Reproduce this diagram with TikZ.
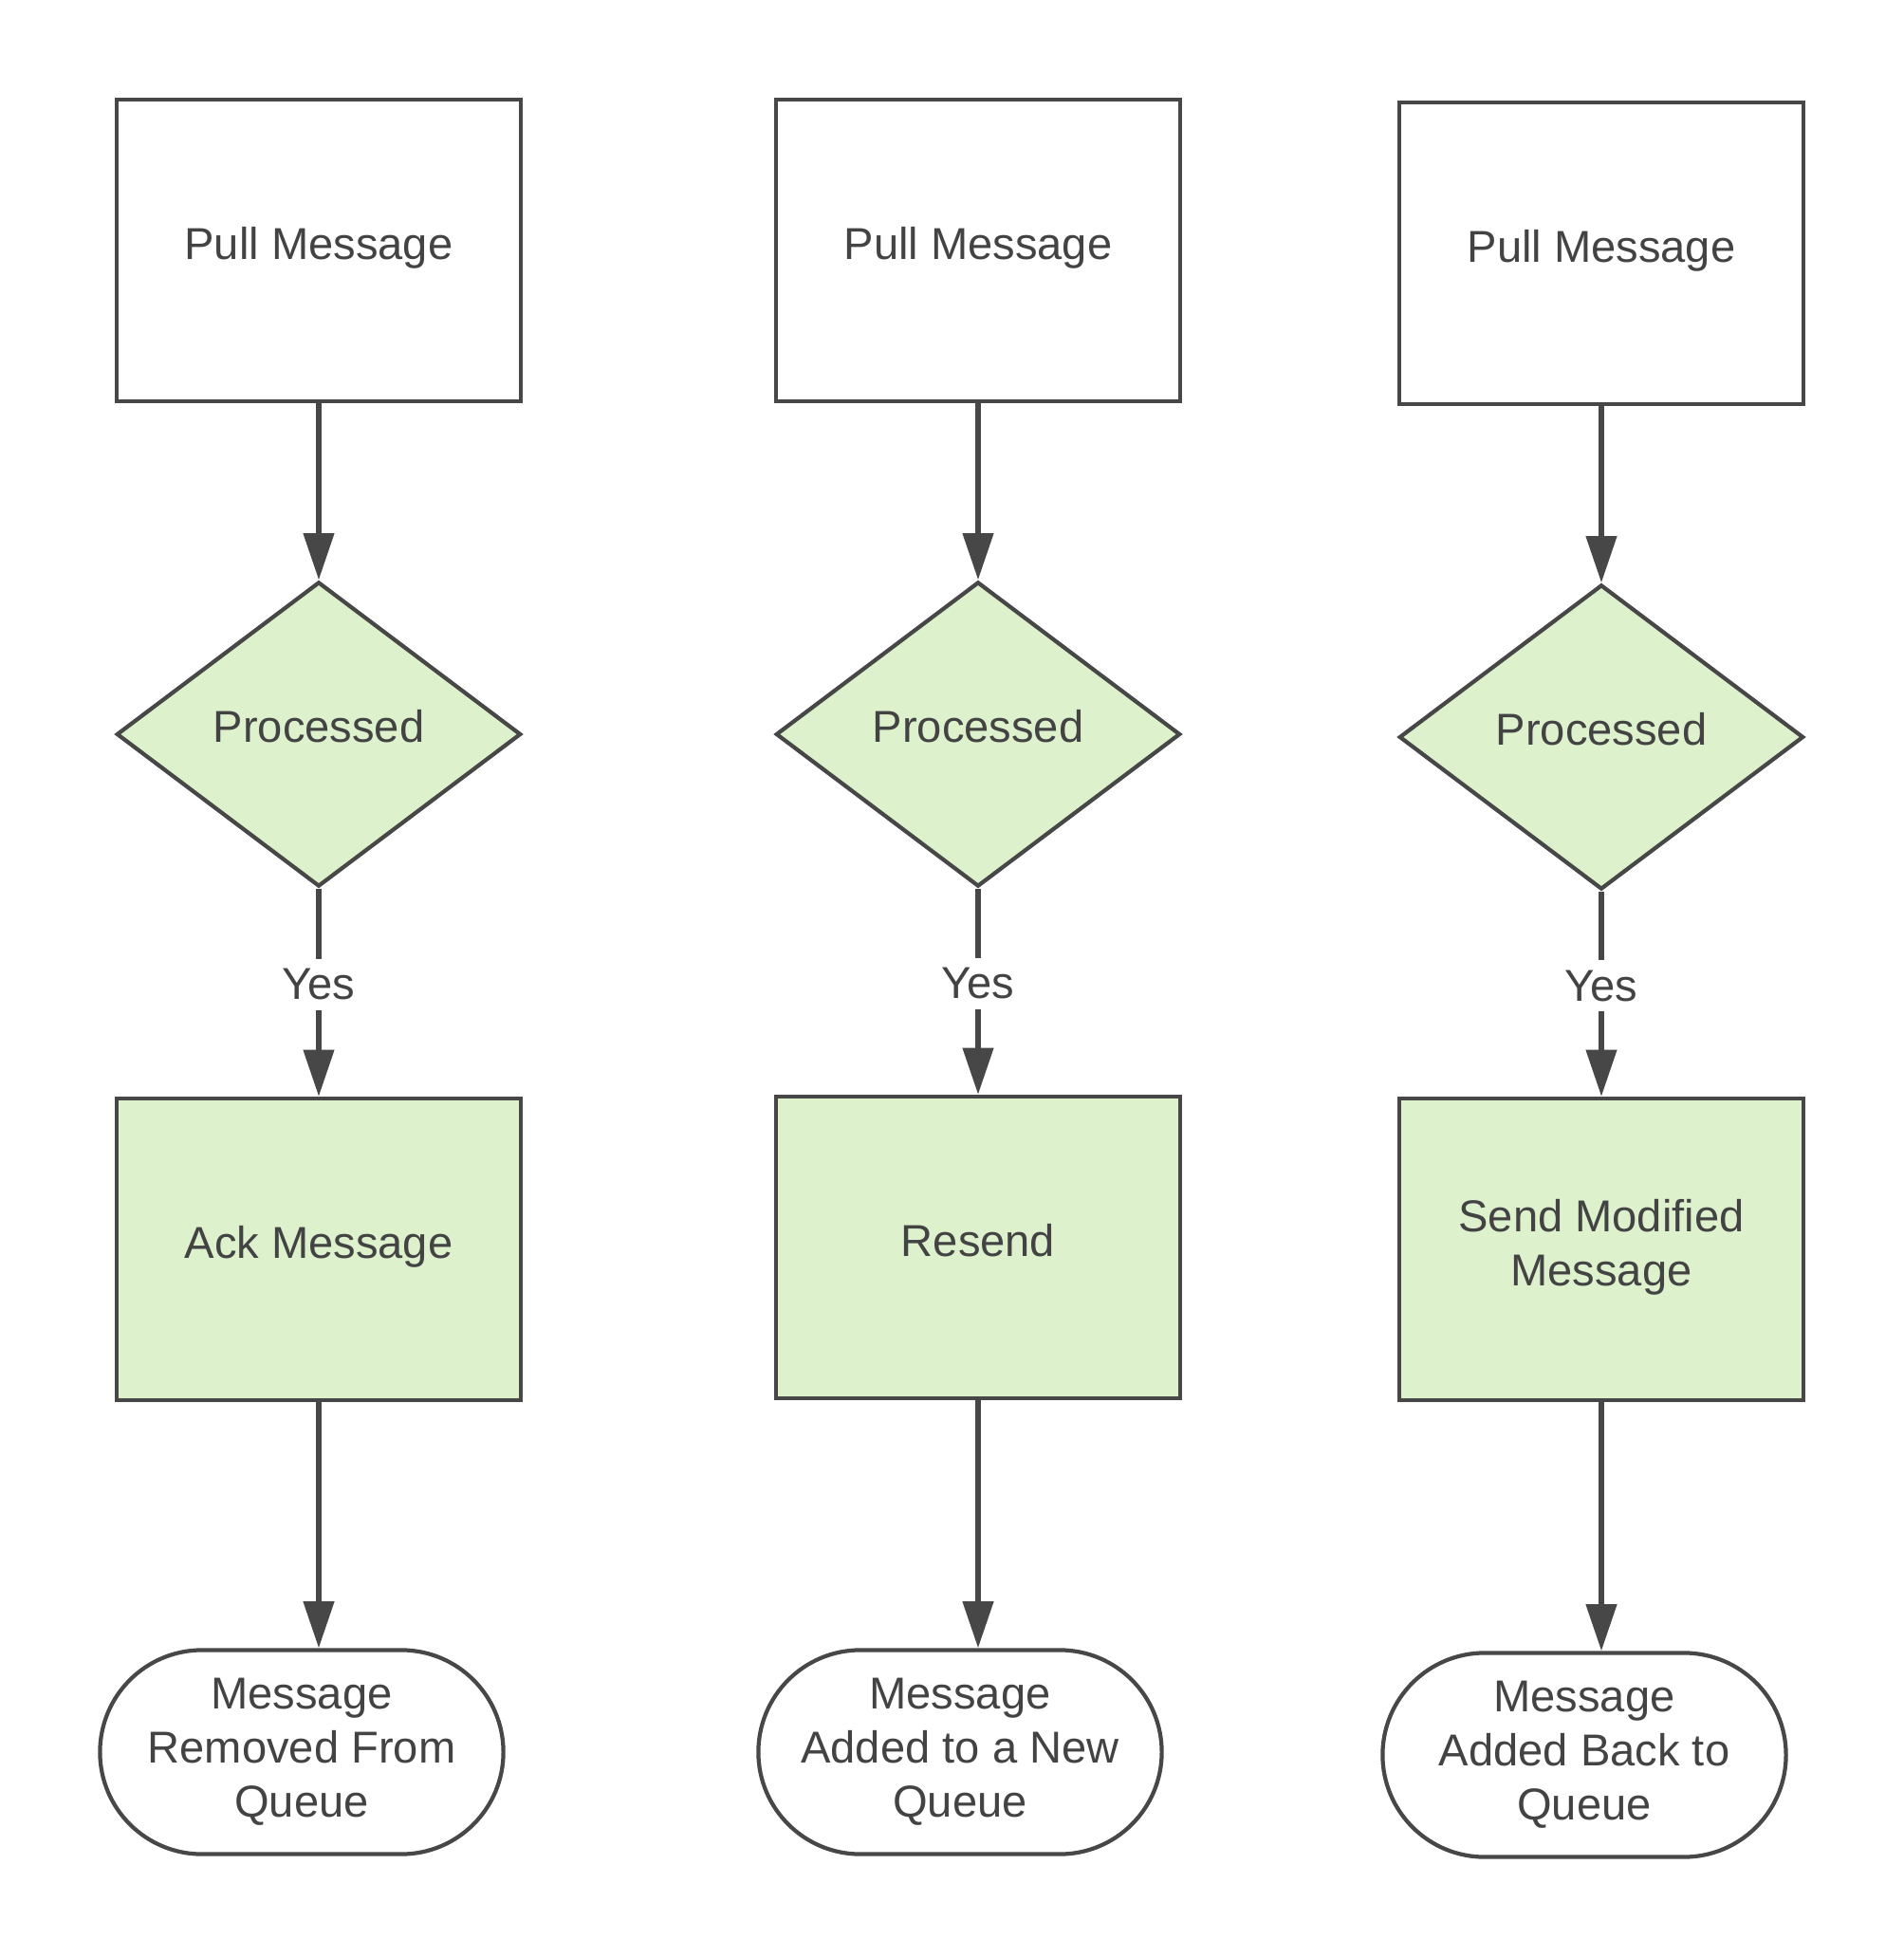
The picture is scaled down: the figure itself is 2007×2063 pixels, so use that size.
\documentclass[tikz,border=0pt]{standalone}
\usepackage{fontspec}
\setmainfont{Liberation Sans}
\usepackage{tikz}
\usetikzlibrary{shapes.geometric}
\usetikzlibrary{shapes.misc}
\usetikzlibrary{arrows.meta}
\definecolor{linegray}{HTML}{474747}
\definecolor{textgray}{HTML}{434343}
\definecolor{stepgreen}{HTML}{DDF1CD}
\tikzstyle{flow}=[draw=linegray, line width=1.2pt, text=textgray, inner sep=0pt, align=center, font=\fontsize{13.4}{16.2}\selectfont]
\tikzstyle{pullbox}=[flow, rectangle, minimum width=4.26cm, minimum height=3.18cm, text height=9.6pt, text depth=4pt]
\tikzstyle{actbox}=[pullbox, fill=stepgreen]
\tikzstyle{decide}=[flow, diamond, fill=stepgreen, minimum width=4.26cm, minimum height=3.21cm, text height=9.6pt, text depth=4.6pt]
\tikzstyle{endbox}=[flow, rounded rectangle, minimum width=4.25cm, minimum height=2.15cm]
\tikzstyle{link}=[draw=linegray, line width=1.6pt, -{Triangle[length=14pt, width=9pt]}]
\tikzstyle{yes}=[fill=white, text=textgray, inner sep=3pt, font=\fontsize{13.4}{16.2}\selectfont]

\begin{document}
\begin{tikzpicture}[x=0.01cm, y=-0.01cm]
        \useasboundingbox (0, 0) rectangle (2007, 2063);
        % ack column
        \node[pullbox] (P1) at (336, 264)  {Pull Message};
        \node[decide]  (D1) at (336, 774)  {Processed};
        \node[actbox]  (B1) at (336, 1317) {Ack Message};
        \node[endbox]  (T1) at (318, 1847) {Message\\Removed From\\Queue};
        % resend column
        \node[pullbox] (P2) at (1031, 264)  {Pull Message};
        \node[decide]  (D2) at (1031, 774)  {Processed};
        \node[actbox]  (B2) at (1031, 1315) {Resend};
        \node[endbox]  (T2) at (1012, 1847) {Message\\Added to a New\\Queue};
        % modify column
        \node[flow, rectangle, fill=stepgreen, minimum width=4.26cm, minimum height=3.18cm]
                       (B3) at (1688, 1317) {Send Modified\\Message\\[-12pt]};
        \node[pullbox] (P3) at (1688, 267)  {Pull Message};
        \node[decide]  (D3) at (1688, 777)  {Processed};
        \node[endbox]  (T3) at (1670, 1850) {Message\\Added Back to\\Queue};
        \draw[link] (P1) -- (D1);
        \draw[link] (D1) -- node[yes, pos=0.46] {Yes} (B1);
        \draw[link] (B1) -- (B1 |- T1.north);
        \draw[link] (P2) -- (D2);
        \draw[link] (D2) -- node[yes, pos=0.46] {Yes} (B2);
        \draw[link] (B2) -- (B2 |- T2.north);
        \draw[link] (P3) -- (D3);
        \draw[link] (D3) -- node[yes, pos=0.46] {Yes} (B3);
        \draw[link] (B3) -- (B3 |- T3.north);
    \end{tikzpicture}
\end{document}
